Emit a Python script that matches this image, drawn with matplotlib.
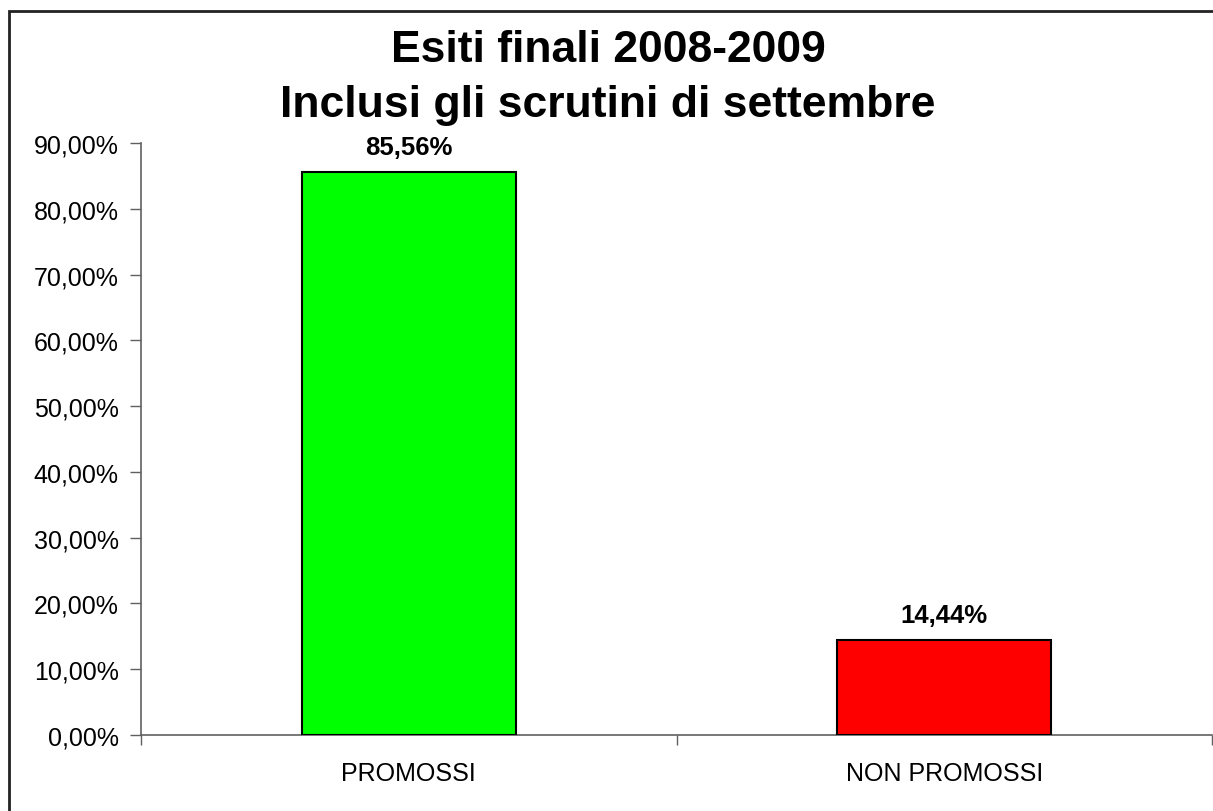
import matplotlib
matplotlib.use("Agg")
import matplotlib.pyplot as plt
from matplotlib.patches import Rectangle
import numpy as np

categories = ["PROMOSSI", "NON PROMOSSI"]
values = [85.56, 14.44]
colors = ["#00FF00", "#FF0000"]
title_lines = ["Esiti finali 2008-2009", "Inclusi gli scrutini di settembre"]

plt.rcParams['font.family'] = ['Liberation Sans', 'DejaVu Sans']

W, H = 1213, 812
fig = plt.figure(figsize=(W/100, H/100), dpi=100)
ax = fig.add_axes([141/W, 1-736/H, (1212-141)/W, (736-144)/H])

x = np.arange(len(categories))
ax.bar(x, values, width=0.4, color=colors, edgecolor="black", linewidth=1.5, zorder=3)
for xi, v in zip(x, values):
    ax.text(xi, v + 2.0, f"{v:.2f}%".replace(".", ","), ha="center", va="bottom",
            fontsize=18.5, fontweight="bold")

ax.set_xlim(-0.5, len(categories) - 0.5)
ax.set_ylim(0, 90)
yt = np.arange(0, 91, 10)
ax.set_yticks(yt)
ax.set_yticklabels([f"{t:.2f}%".replace(".", ",") for t in yt], fontsize=18)
ax.set_xticks(x)
ax.set_xticklabels(categories, fontsize=18)
ax.set_xticks(np.arange(-0.5, len(categories), 1.0), minor=True)
ax.tick_params(axis="x", which="major", length=0, pad=19)
ax.tick_params(axis="x", which="minor", length=7, width=1, color="#606060", direction="out")
ax.tick_params(axis="y", length=8, width=1, color="#606060", pad=8)
for s in ["top", "right"]:
    ax.spines[s].set_visible(False)
for s in ["left", "bottom"]:
    ax.spines[s].set_color("#606060")
    ax.spines[s].set_linewidth(1.2)

fig.text(608/W, 1-51/H, title_lines[0], ha="center", va="center", fontsize=32, fontweight="bold")
fig.text(608/W, 1-106/H, title_lines[1], ha="center", va="center", fontsize=32, fontweight="bold")

fig.patches.append(Rectangle((8.5/W, -0.1), 1.2, 1 - 11.5/H + 0.1, transform=fig.transFigure,
                             fill=False, edgecolor="#222222", linewidth=2))

fig.savefig("out.png", dpi=100)
